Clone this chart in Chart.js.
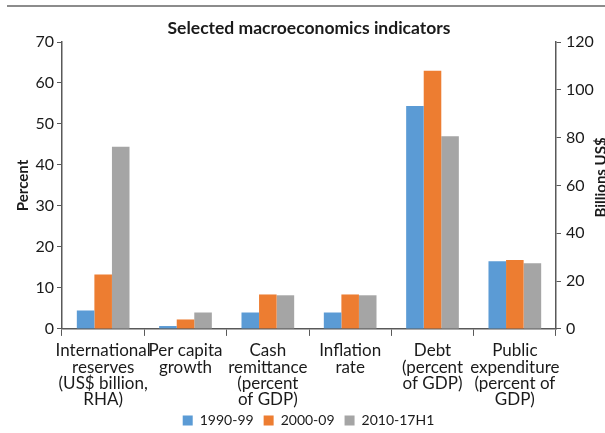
<!DOCTYPE html>
<html>
<head>
<meta charset="utf-8">
<title>Selected macroeconomics indicators</title>
<script src="https://cdn.jsdelivr.net/npm/chart.js@4"></script>
<style>
  html, body { margin: 0; padding: 0; background: #fff; overflow: hidden; }
  #wrap { position: relative; width: 605px; height: 433px; }
  #rule { position: absolute; top: 5px; left: 7px; right: 0; height: 2px; background: #8c8c8c; }
</style>
</head>
<body>
<div id="wrap">
  <div id="rule"></div>
  <canvas id="macro-chart" width="605" height="433"></canvas>
</div>
<script>
/**
 * Data
 */
const categories = [
  ['International', 'reserves', '(US$ billion,', 'RHA)'],
  ['Per capita', 'growth'],
  ['Cash', 'remittance', '(percent', 'of GDP)'],
  ['Inflation', 'rate'],
  ['Debt', '(percent', 'of GDP)'],
  ['Public', 'expenditure', '(percent of', 'GDP)']
];
const periods = ['1990-99', '2000-09', '2010-17H1'];
const colors = ['#5B9BD5', '#ED7D31', '#A5A5A5'];

// international reserves, billions US$ (right axis), one per period
const reserves = [7.7, 22.8, 76.2];

// percent indicators (left axis), first slot is the reserves category
const pct9099 = [null, 0.7, 4.0, 4.0, 54.4, 16.5];
const pct0009 = [null, 2.3, 8.4, 8.4, 63.0, 16.8];
const pct1017 = [null, 4.0, 8.2, 8.2, 47.0, 16.0];

const leftTicks = [0, 10, 20, 30, 40, 50, 60, 70];
const rightTicks = [0, 20, 40, 60, 80, 100, 120];

/**
 * Methods
 */
const axisColor = '#595959';
const textColor = '#1a1a1a';

const buildDatasets = () => {
  const pctSeries = [pct9099, pct0009, pct1017];
  const sets = [];
  // percent series on the left axis
  pctSeries.forEach((values, i) => {
    sets.push({
      label: periods[i],
      data: values,
      backgroundColor: colors[i],
      yAxisID: 'y'
    });
  });
  // reserves go on the right axis, only in the first category
  reserves.forEach((v, i) => {
    sets.push({
      label: periods[i] + ' reserves',
      data: categories.map((c, k) => (k === 0 ? v : null)),
      backgroundColor: colors[i],
      yAxisID: 'y1'
    });
  });
  return sets;
};

// chart title and the right axis title (reads bottom to top, like the left one)
const extraText = {
  id: 'extraText',
  afterLayout(chart) {
    // pull the legend up into the empty space under the short labels
    chart.legend.top -= 11;
    chart.legend.bottom -= 11;
  },
  afterDraw(chart) {
    const { ctx, chartArea } = chart;
    ctx.save();
    ctx.fillStyle = textColor;
    ctx.textAlign = 'center';
    ctx.textBaseline = 'middle';
    ctx.font = 'bold 17.5px Lato';
    ctx.fillText('Selected macroeconomics indicators', (chartArea.left + chartArea.right) / 2, 28);

    ctx.font = 'bold 15px Lato';
    ctx.translate(601, (chartArea.top + chartArea.bottom) / 2 - 8);
    ctx.rotate(-Math.PI / 2);
    ctx.fillText('Billions US$', 0, 0);
    ctx.restore();
  }
};

const createGraphic = () => {
  const ctx = document.getElementById('macro-chart').getContext('2d');
  Chart.defaults.font.family = 'Lato';
  Chart.defaults.color = textColor;

  new Chart(ctx, {
    type: 'bar',
    data: {
      labels: categories,
      datasets: buildDatasets()
    },
    plugins: [extraText],
    options: {
      responsive: false,
      animation: false,
      datasets: {
        bar: {
          categoryPercentage: 0.64,
          barPercentage: 1,
          skipNull: true
        }
      },
      layout: {
        padding: { top: 42, left: 12, right: 0, bottom: -15.5 }
      },
      plugins: {
        tooltip: { enabled: false },
        legend: {
          position: 'bottom',
          labels: {
            filter: (item) => item.datasetIndex < 3,
            boxWidth: 10,
            boxHeight: 10,
            padding: 10,
            font: { size: 14 },
            color: textColor
          }
        }
      },
      scales: {
        x: {
          grid: {
            display: true,
            drawOnChartArea: false,
            drawTicks: true,
            tickLength: 7,
            color: axisColor,
            offset: true
          },
          border: { display: true, color: axisColor, width: 1.5 },
          ticks: {
            maxRotation: 0,
            autoSkip: false,
            padding: 7,
            font: { size: 17, lineHeight: 0.95 },
            color: textColor
          }
        },
        y: {
          position: 'left',
          min: 0,
          max: 70,
          afterBuildTicks: (scale) => { scale.ticks = leftTicks.map(v => ({ value: v })); },
          afterFit: (scale) => { scale.width = 50; },
          grid: {
            drawOnChartArea: false,
            tickLength: 5,
            color: axisColor
          },
          border: { display: true, color: axisColor, width: 1.5 },
          ticks: { padding: 3, font: { size: 16 }, color: textColor },
          title: {
            display: true,
            text: 'Percent',
            font: { size: 15, weight: 'bold' },
            color: textColor,
            padding: { top: 2, bottom: 0 }
          }
        },
        y1: {
          position: 'right',
          min: 0,
          max: 120,
          afterBuildTicks: (scale) => { scale.ticks = rightTicks.map(v => ({ value: v })); },
          afterFit: (scale) => { scale.width = 49; },
          grid: {
            drawOnChartArea: false,
            tickLength: 5,
            color: axisColor
          },
          border: { display: true, color: axisColor, width: 1.5 },
          ticks: { padding: 5, font: { size: 16 }, color: textColor }
        }
      }
    }
  });
};

/**
 * Events
 */
document.addEventListener('DOMContentLoaded', () => {
  createGraphic();
});
</script>
</body>
</html>
